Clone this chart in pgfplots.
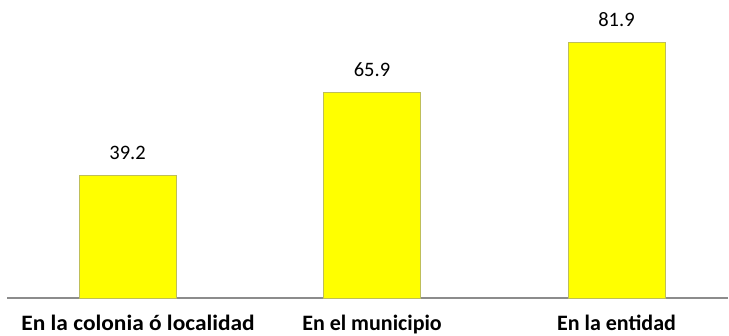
\documentclass[border=0pt]{standalone}
\usepackage{fontspec}
\setmainfont{Carlito}
\usepackage{pgfplots}
\pgfplotsset{compat=1.18}
\definecolor{baryellow}{RGB}{255,255,0}
\definecolor{baredge}{RGB}{190,190,90}
\definecolor{axisgray}{RGB}{140,140,140}
\begin{document}
\begin{tikzpicture}
\path[use as bounding box] (-7pt,-38pt) rectangle (722pt,298pt);
\begin{axis}[
  at={(0,0)}, anchor=south west,
  scale only axis,
  width=721pt, height=298pt,
  xmin=-0.493, xmax=2.456,
  ymin=0, ymax=95.5,
  clip=false,
  axis y line=none,
  axis x line*=bottom,
  axis line style={draw=axisgray, line width=1.5pt, -},
  xtick={0,1,2},
  xticklabels={\hspace*{21pt}{\addfontfeature{FakeStretch=1.064}En la colonia ó localidad}, En el municipio, En la entidad},
  major tick length=0pt,
  xticklabel style={font=\fontsize{22}{24}\selectfont\bfseries, anchor=base, yshift=-33pt},
  ytick=\empty,
  /pgf/number format/assume math mode=true,
  nodes near coords,
  nodes near coords style={font=\fontsize{20.5}{22}\selectfont, anchor=base, yshift=16pt,
    /pgf/number format/.cd, fixed, fixed zerofill, precision=1},
]
\addplot[ybar, bar width=97pt, fill=baryellow, draw=baredge, line width=0.6pt]
  coordinates {(0,39.2) (1,65.9) (2,81.9)};
\end{axis}
\end{tikzpicture}
\end{document}
